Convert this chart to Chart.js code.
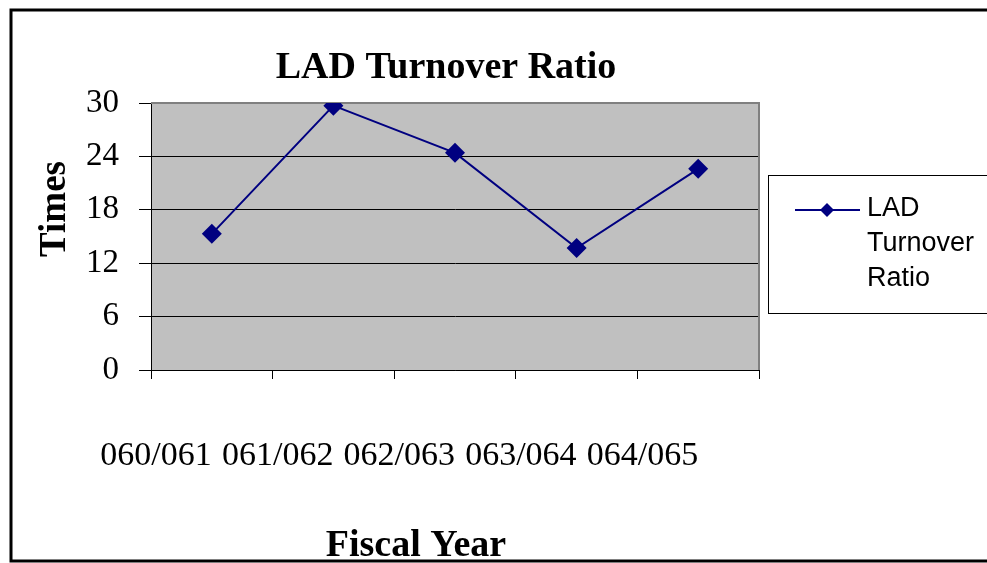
<!DOCTYPE html>
<html lang="en">
<head>
<meta charset="UTF-8">
<title>LAD Turnover Ratio</title>
<style>
    html, body { margin: 0; padding: 0; background: #fff; }
    #wrap { width: 987px; height: 563px; }
</style>
</head>
<body>
<div id="wrap"><canvas id="ratioChart" width="987" height="563"></canvas></div>

<script src="https://cdn.jsdelivr.net/npm/chart.js@4"></script>
<script>
    // values
    var fiscalYears = ['060/061', '061/062', '062/063', '063/064', '064/065'];
    var ladTurnover = [15.3, 29.7, 24.4, 13.7, 22.6];
    var timesTicks = [0, 6, 12, 18, 24, 30];
    var seriesName = 'LAD Turnover Ratio';
    var chartTitle = 'LAD Turnover Ratio';
    var xTitle = 'Fiscal Year';
    var yTitle = 'Times';

    var navy = '#000080';
    var serif = '"Liberation Serif", "Times New Roman", serif';
    var sans = '"Liberation Sans", Arial, sans-serif';

    // grey plot area, plot border, titles, outer frame and the boxed legend
    var excelLook = {
        id: 'excelLook',
        beforeDraw: function (chart) {
            var a = chart.chartArea, c = chart.ctx;
            c.save();
            c.fillStyle = '#C0C0C0';
            c.fillRect(a.left, a.top, a.right - a.left, a.bottom - a.top);
            c.restore();
        },
        beforeDatasetsDraw: function (chart) {
            var a = chart.chartArea, c = chart.ctx;
            c.save();
            c.strokeStyle = '#808080';
            c.lineWidth = 2;
            c.beginPath();
            c.moveTo(a.left, a.top);
            c.lineTo(a.right, a.top);
            c.lineTo(a.right, a.bottom);
            c.stroke();
            c.restore();
        },
        afterDraw: function (chart) {
            var c = chart.ctx;
            var ds = chart.data.datasets[0];
            c.save();
            // titles (Excel puts them off-centre, so they are placed by hand)
            c.fillStyle = '#000';
            c.textAlign = 'center';
            c.textBaseline = 'middle';
            c.font = 'bold 38px ' + serif;
            c.fillText(chartTitle, 446, 68);
            c.fillText(xTitle, 416, 546);
            c.save();
            c.translate(55, 209);
            c.rotate(-Math.PI / 2);
            c.font = 'bold 37px ' + serif;
            c.fillText(yTitle, 0, 0);
            c.restore();

            // outer frame
            c.strokeStyle = '#000';
            c.lineWidth = 3;
            c.strokeRect(11, 10, 1000, 551);

            // legend box
            c.lineWidth = 1;
            c.strokeRect(768.5, 175.5, 240, 138);
            c.strokeStyle = ds.borderColor;
            c.lineWidth = 2;
            c.beginPath();
            c.moveTo(795, 210);
            c.lineTo(860, 210);
            c.stroke();
            c.fillStyle = ds.borderColor;
            c.beginPath();
            c.moveTo(827, 203);
            c.lineTo(834, 210);
            c.lineTo(827, 217);
            c.lineTo(820, 210);
            c.closePath();
            c.fill();
            c.fillStyle = '#000';
            c.font = '27px ' + sans;
            c.textAlign = 'left';
            ds.label.split(' ').forEach(function (word, i) {
                c.fillText(word, 867, 209 + i * 35);
            });
            c.restore();
        }
    };

    var ctx = document.getElementById('ratioChart').getContext('2d');
    var ratioChart = new Chart(ctx, {
        type: 'line',
        data: {
            labels: fiscalYears,
            datasets: [{
                label: seriesName,
                data: ladTurnover,
                borderColor: navy,
                backgroundColor: navy,
                borderWidth: 2,
                pointStyle: 'rectRot',
                pointRadius: 10,
                pointHoverRadius: 10,
                pointBorderWidth: 0,
                tension: 0
            }]
        },
        options: {
            responsive: false,
            animation: false,
            devicePixelRatio: 1,
            layout: { padding: { left: 0, top: 103, right: 228, bottom: 0 } },
            plugins: {
                legend: { display: false },
                tooltip: { enabled: false },
                title: { display: false }
            },
            scales: {
                x: {
                    offset: true,
                    afterFit: function (s) { s.height = 193; },
                    grid: {
                        offset: true,
                        drawOnChartArea: false,
                        drawTicks: true,
                        tickLength: 9,
                        color: '#000'
                    },
                    border: { color: '#000', width: 1 },
                    ticks: {
                        color: '#000',
                        font: { family: serif, size: 34 },
                        padding: 57,
                        align: 'end',
                        maxRotation: 0,
                        autoSkip: false
                    }
                },
                y: {
                    min: 0,
                    max: 30,
                    afterFit: function (s) { s.width = 151; },
                    afterBuildTicks: function (s) {
                        s.ticks = timesTicks.map(function (v) { return { value: v }; });
                    },
                    grid: {
                        color: '#000',
                        lineWidth: 1,
                        tickLength: 12,
                        drawTicks: true
                    },
                    border: { color: '#000', width: 1 },
                    ticks: {
                        color: '#000',
                        font: { family: serif, size: 33 },
                        padding: 20
                    }
                }
            }
        },
        plugins: [excelLook]
    });
</script>
</body>
</html>
